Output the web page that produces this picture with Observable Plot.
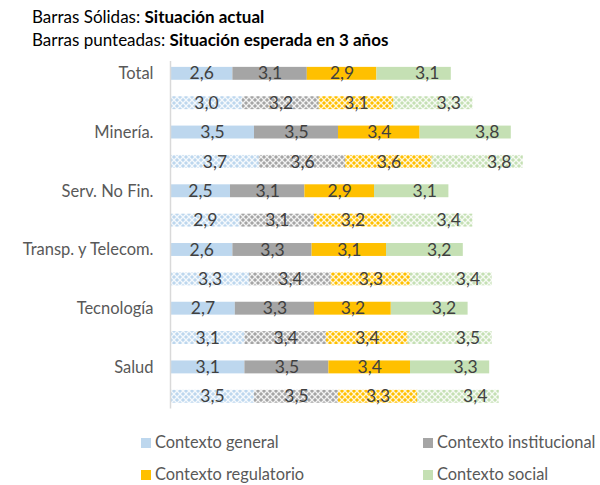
<!DOCTYPE html>
<html>
<head>
<meta charset="utf-8">
<script src="https://cdn.jsdelivr.net/npm/d3@7"></script>
<script src="https://cdn.jsdelivr.net/npm/@observablehq/plot@0.6"></script>
<style>
  html, body { margin: 0; padding: 0; background: #fff; }
  body { width: 600px; height: 485px; position: relative; font-family: Lato, "Open Sans", sans-serif; overflow: hidden; }
  #title { position: absolute; left: 32px; top: 5px; font-size: 17px; line-height: 23px; color: #000; }
  #chart { position: absolute; left: 0; top: 52px; }
  .leg { position: absolute; font-size: 16.4px; color: #595959; line-height: 18px; white-space: nowrap; }
  .leg span.sw { display: inline-block; width: 10px; height: 10px; margin-right: 4px; }
</style>
</head>
<body>
<div id="title">
  <div>Barras Sólidas: <b>Situación actual</b></div>
  <div>Barras punteadas: <b>Situación esperada en 3 años</b></div>
</div>
<div id="chart"></div>
<div id="legend"></div>
<script>
const categories = ["Total", "Minería.", "Serv. No Fin.", "Transp. y Telecom.", "Tecnología", "Salud"];
const series = ["Contexto general", "Contexto institucional", "Contexto regulatorio", "Contexto social"];
const colors = ["#BDD7EE", "#A5A5A5", "#FFC000", "#C5E0B4"];
// Situación actual (barras sólidas)
const actual = [
  [2.6, 3.1, 2.9, 3.1],
  [3.5, 3.5, 3.4, 3.8],
  [2.5, 3.1, 2.9, 3.1],
  [2.6, 3.3, 3.1, 3.2],
  [2.7, 3.3, 3.2, 3.2],
  [3.1, 3.5, 3.4, 3.3]
];
// Situación esperada en 3 años (barras punteadas)
const esperada = [
  [3.0, 3.2, 3.1, 3.3],
  [3.7, 3.6, 3.6, 3.8],
  [2.9, 3.1, 3.2, 3.4],
  [3.3, 3.4, 3.3, 3.4],
  [3.1, 3.4, 3.4, 3.5],
  [3.5, 3.5, 3.3, 3.4]
];

const rows = [];
const keys = [];
categories.forEach((c, ci) => {
  keys.push(c + "|a", c + "|e");
  series.forEach((s, si) => {
    rows.push({key: c + "|a", cat: c, kind: "a", si, series: s, value: actual[ci][si]});
  });
  series.forEach((s, si) => {
    rows.push({key: c + "|e", cat: c, kind: "e", si, series: s, value: esperada[ci][si]});
  });
});

const fmt = v => d3.format(".1f")(v).replace(".", ",");
const fillOf = d => d.kind === "a" ? colors[d.si] : `url(#pat-${d.si})`;

const svg = Plot.plot({
  width: 600,
  height: 370,
  marginLeft: 170,
  marginRight: 46,
  marginTop: 9,
  marginBottom: 13.4,
  style: {fontFamily: "Lato, 'Open Sans', sans-serif", fontSize: "16px", background: "#fff"},
  x: {domain: [0, 16], axis: null},
  y: {domain: keys, paddingInner: 0.56, paddingOuter: 0.2, round: false, axis: null},
  color: {type: "identity"},
  marks: [
    Plot.barX(rows, Plot.stackX({x: "value", y: "key", fill: fillOf, order: null})),
    Plot.ruleX([0], {stroke: "#d9d9d9", strokeWidth: 1.5}),
    Plot.text(rows, Plot.stackX({x: "value", y: "key", order: null,
      text: d => d.si === 3 ? "" : fmt(d.value), fill: "#404040", fontSize: 17.5})),
    Plot.text(rows, Plot.stackX2({x: "value", y: "key", order: null,
      text: d => d.si === 3 ? fmt(d.value) : "", fill: "#404040", fontSize: 17.5, textAnchor: "end", dx: -12})),
    Plot.axisY({tickSize: 0, tickPadding: 17, fontSize: 16.5, color: "#595959",
      tickFormat: k => k.endsWith("|a") ? k.slice(0, -2) : "", label: null})
  ]
});

const defs = d3.select(svg).insert("defs", ":first-child");
colors.forEach((c, i) => {
  const p = defs.append("pattern")
    .attr("id", `pat-${i}`)
    .attr("patternUnits", "userSpaceOnUse")
    .attr("width", 6).attr("height", 6);
  p.append("rect").attr("width", 6).attr("height", 6).attr("fill", c);
  p.append("path").attr("d", "M0,0L6,6M6,0L0,6")
    .attr("stroke", "#fff").attr("stroke-width", 1.3).attr("stroke-opacity", 0.85);
});

document.getElementById("chart").appendChild(svg);

const legendPos = [[141, 442], [423, 442], [141, 474], [423, 474]];
const legend = document.getElementById("legend");
series.forEach((s, i) => {
  const d = document.createElement("div");
  d.className = "leg";
  d.style.left = legendPos[i][0] + "px";
  d.style.top = (legendPos[i][1] - 9) + "px";
  d.innerHTML = `<span class="sw" style="background:${colors[i]}"></span>${s}`;
  legend.appendChild(d);
});
</script>
</body>
</html>
